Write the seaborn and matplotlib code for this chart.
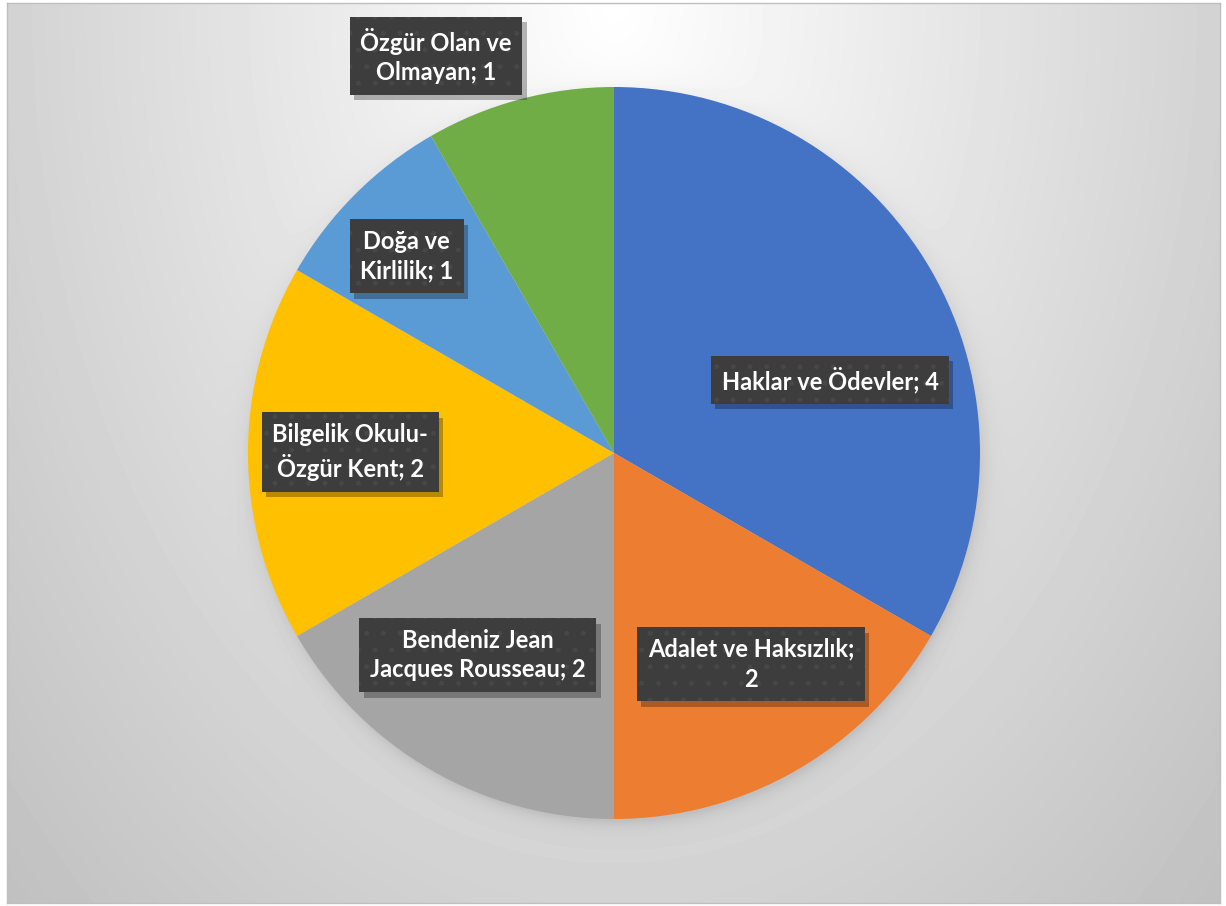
import numpy as np
import matplotlib.pyplot as plt
import matplotlib.patheffects as pe
import seaborn as sns

# veri
konular = ['Haklar ve Ödevler', 'Adalet ve Haksızlık', 'Bendeniz Jean Jacques Rousseau',
           'Bilgelik Okulu-Özgür Kent', 'Doğa ve Kirlilik', 'Özgür Olan ve Olmayan']
sayilar = [4, 2, 2, 2, 1, 1]
etiketler = ['Haklar ve Ödevler; 4', 'Adalet ve Haksızlık;\n2', 'Bendeniz Jean\nJacques Rousseau; 2',
             'Bilgelik Okulu-\nÖzgür Kent; 2', 'Doğa ve\nKirlilik; 1', 'Özgür Olan ve\nOlmayan; 1']
renkler = ['#4472C4', '#ED7D31', '#A5A5A5', '#FFC000', '#5B9BD5', '#70AD47']

# etiket yerleri (yarıçap birimi)
etiket_yer = [(0.59, 0.20), (0.374, -0.577), (-0.372, -0.552),
              (-0.721, 0.003), (-0.566, 0.538), (-0.486, 1.085)]

sns.set_theme(style='white')
plt.rcParams['font.family'] = ['Lato', 'DejaVu Sans']
plt.rcParams['hatch.linewidth'] = 1.2

W, H = 1226, 906
fig = plt.figure(figsize=(W / 100, H / 100), dpi=100)
fig.patch.set_facecolor('white')

cx, cy, r = 614, 453, 366

# arka plan: üst ortadan açılan gri geçiş + pastanın yumuşak gölgesi
x0, y0, x1, y1 = 7, 3, 1220, 903
bg = fig.add_axes([x0 / W, (H - y1) / H, (x1 - x0) / W, (y1 - y0) / H])
yy, xx = np.mgrid[y0:y1, x0:x1].astype(float)
e = np.sqrt(((xx - cx) / 607) ** 2 + ((yy - y0) / 900) ** 2)
v = 1.0 - 0.175 * e
dist = np.sqrt((xx - cx - 2) ** 2 + (yy - cy - 5) ** 2)
v -= 0.09 * np.exp(-np.clip(dist - r + 4, 0, None) / 9)
bg.imshow(v, cmap='gray', vmin=0, vmax=1, aspect='auto', interpolation='bilinear')
bg.set_xticks([])
bg.set_yticks([])
for s in bg.spines.values():
    s.set_color('#BFBFBF')
    s.set_linewidth(1)

# pasta
ax = fig.add_axes([(cx - r) / W, (H - cy - r) / H, 2 * r / W, 2 * r / H])
ax.pie(sayilar, colors=sns.color_palette(renkler), startangle=90, counterclock=False,
       wedgeprops=dict(linewidth=0))
ax.set_xlim(-1, 1)
ax.set_ylim(-1, 1)
ax.set_aspect('equal')
ax.set_facecolor('none')

for et, (x, y) in zip(etiketler, etiket_yer):
    t = ax.text(x, y, et, ha='center', va='center', color='white', fontsize=17,
                fontweight='bold', linespacing=1.35,
                bbox=dict(boxstyle='square,pad=0.45', facecolor='#3D3D3D', linewidth=0))
    # kutu gölgesi ve noktalı desen
    t.get_bbox_patch().set_path_effects([
        pe.SimplePatchShadow(offset=(3, -4), shadow_rgbFace='black', alpha=0.28),
        pe.PathPatchEffect(facecolor='#3D3D3D', edgecolor='#474747', linewidth=0, hatch='.'),
    ])

fig.savefig('out.png', dpi=100)
